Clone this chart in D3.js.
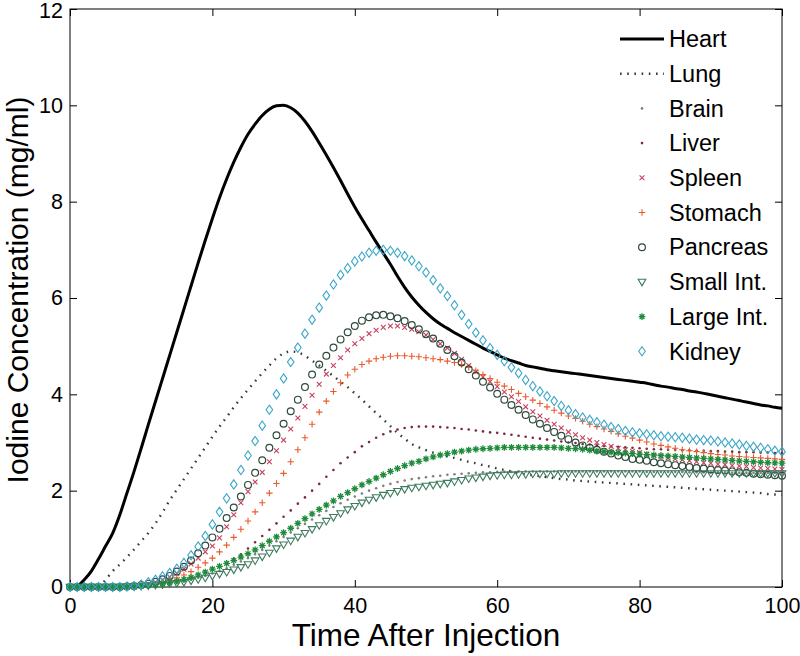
<!DOCTYPE html>
<html><head><meta charset="utf-8">
<script src="https://cdn.jsdelivr.net/npm/d3@7"></script>
<style>body{margin:0;background:#fff}text{font-family:"Liberation Sans",Arial,Helvetica,sans-serif}</style>
</head><body>
<svg id="c" width="800" height="656"></svg>
<script>
const time=[0,1,2,3,4,5,6,7,8,9,10,11,12,13,14,15,16,17,18,19,20,21,22,23,24,25,26,27,28,29,30,31,32,33,34,35,36,37,38,39,40,41,42,43,44,45,46,47,48,49,50,51,52,53,54,55,56,57,58,59,60,61,62,63,64,65,66,67,68,69,70,71,72,73,74,75,76,77,78,79,80,81,82,83,84,85,86,87,88,89,90,91,92,93,94,95,96,97,98,99,100];
const heart=[0,0.02,0.15,0.33,0.58,0.85,1.12,1.5,1.95,2.4, 2.88,3.37,3.85,4.33,4.81,5.29,5.77,6.25,6.73,7.2, 7.65,8.08,8.47,8.82,9.13,9.4,9.61,9.79,9.92,9.99, 10.0,9.95,9.84,9.67,9.46,9.22,8.97,8.71,8.44,8.16, 7.89,7.64,7.4,7.16,6.93,6.7,6.45,6.22,6.02,5.85, 5.7,5.57,5.46,5.37,5.28,5.2,5.12,5.04,4.96,4.89, 4.82,4.75,4.7,4.65,4.6,4.57,4.54,4.51,4.49,4.47, 4.45,4.43,4.41,4.39,4.37,4.35,4.33,4.31,4.29,4.27, 4.25,4.23,4.2,4.17,4.15,4.12,4.1,4.07,4.05,4.02, 3.99,3.96,3.93,3.9,3.87,3.84,3.81,3.78,3.76,3.73, 3.71];
const lung=[0,0,0,0,0,0.15,0.33,0.47,0.62,0.78, 0.95,1.12,1.32,1.55,1.8,2.02,2.24,2.46,2.68,2.9, 3.12,3.33,3.53,3.73,3.92,4.1,4.27,4.44,4.6,4.75, 4.85,4.89,4.87,4.8,4.7,4.6,4.49,4.38,4.26,4.15, 4.02,3.89,3.75,3.61,3.48,3.34,3.2,3.08,2.97,2.9, 2.84,2.79,2.75,2.71,2.68,2.64,2.6,2.57,2.53,2.5, 2.46,2.43,2.4,2.37,2.34,2.32,2.3,2.28,2.26,2.24, 2.23,2.21,2.2,2.19,2.18,2.17,2.16,2.15,2.14,2.13, 2.12,2.11,2.1,2.09,2.08,2.07,2.06,2.05,2.04,2.03, 2.02,2.01,2.0,1.99,1.98,1.97,1.96,1.95,1.93,1.92, 1.91];
const brain=[0,0,0,0,0,0,0,0,0,0, 0.01,0.02,0.03,0.05,0.07,0.09,0.12,0.15,0.19,0.23, 0.28,0.33,0.39,0.46,0.53,0.6,0.68,0.77,0.86,0.95, 1.04,1.13,1.22,1.31,1.4,1.49,1.58,1.66,1.74,1.81, 1.88,1.94,2.0,2.05,2.1,2.14,2.18,2.21,2.24,2.26, 2.28,2.3,2.31,2.33,2.34,2.35,2.36,2.37,2.38,2.38, 2.39,2.39,2.39,2.4,2.4,2.4,2.4,2.4,2.4,2.4, 2.4,2.4,2.4,2.4,2.4,2.4,2.4,2.4,2.4,2.4, 2.4,2.39,2.39,2.39,2.39,2.39,2.39,2.38,2.38,2.38, 2.38,2.38,2.38,2.37,2.37,2.37,2.37,2.37,2.37,2.37, 2.36];
const liver=[0,0,0,0,0,0,0,0,0,0, 0.01,0.02,0.04,0.06,0.09,0.12,0.16,0.2,0.25,0.31, 0.37,0.44,0.51,0.59,0.68,0.8,0.93,1.06,1.19,1.32, 1.46,1.59,1.73,1.86,2.0,2.14,2.29,2.43,2.57,2.69, 2.8,2.92,3.01,3.1,3.17,3.23,3.27,3.3,3.32,3.33, 3.33,3.33,3.32,3.31,3.3,3.28,3.27,3.25,3.23,3.21, 3.2,3.18,3.16,3.14,3.12,3.1,3.08,3.06,3.04,3.02, 3.0,2.99,2.97,2.96,2.94,2.93,2.92,2.91,2.9,2.89, 2.88,2.87,2.86,2.86,2.85,2.85,2.84,2.84,2.83,2.83, 2.82,2.82,2.81,2.81,2.8,2.8,2.8,2.79,2.79,2.78, 2.78];
const spleen=[0,0,0,0,0,0,0,0,0,0, 0.03,0.06,0.1,0.15,0.21,0.28,0.37,0.48,0.6,0.73, 0.85,1.02,1.25,1.5,1.75,1.98,2.18,2.38,2.6,2.83, 3.05,3.28,3.51,3.75,3.98,4.21,4.42,4.6,4.76,4.92, 5.05,5.16,5.26,5.33,5.39,5.42,5.42,5.39,5.35,5.3, 5.23,5.14,5.05,4.96,4.85,4.73,4.6,4.47,4.36,4.26, 4.16,4.05,3.95,3.85,3.74,3.64,3.55,3.46,3.38,3.3, 3.22,3.16,3.1,3.05,3.0,2.96,2.92,2.88,2.85,2.82, 2.79,2.76,2.73,2.71,2.68,2.66,2.64,2.62,2.6,2.58, 2.57,2.55,2.54,2.52,2.51,2.5,2.48,2.47,2.46,2.45, 2.44];
const stomach=[0,0,0,0,0,0,0,0,0,0.01, 0.02,0.04,0.06,0.1,0.14,0.19,0.25,0.32,0.41,0.5, 0.6,0.73,0.87,1.03,1.2,1.37,1.56,1.75,1.95,2.15, 2.36,2.6,2.85,3.1,3.38,3.63,3.86,4.06,4.24,4.4, 4.52,4.62,4.69,4.74,4.77,4.79,4.8,4.8,4.79,4.78, 4.76,4.74,4.72,4.69,4.66,4.62,4.56,4.49,4.41,4.33, 4.25,4.17,4.1,4.02,3.95,3.88,3.81,3.74,3.67,3.61, 3.55,3.5,3.44,3.38,3.33,3.28,3.23,3.18,3.13,3.09, 3.05,3.01,2.97,2.94,2.91,2.88,2.85,2.83,2.81,2.79, 2.77,2.75,2.74,2.72,2.71,2.7,2.69,2.68,2.67,2.66, 2.65];
const pancreas=[0,0,0,0,0,0,0,0,0.01,0.02, 0.04,0.07,0.11,0.16,0.23,0.32,0.42,0.55,0.7,0.86, 1.03,1.21,1.43,1.65,1.88,2.12,2.37,2.63,2.89,3.15, 3.39,3.65,3.89,4.15,4.41,4.62,4.8,4.97,5.14,5.29, 5.42,5.53,5.6,5.64,5.65,5.62,5.58,5.52,5.44,5.35, 5.25,5.16,5.05,4.92,4.79,4.66,4.52,4.39,4.26,4.14, 4.01,3.89,3.78,3.68,3.57,3.48,3.39,3.3,3.22,3.14, 3.07,3.0,2.94,2.89,2.85,2.81,2.77,2.73,2.7,2.66, 2.64,2.62,2.59,2.57,2.55,2.53,2.51,2.49,2.47,2.46, 2.44,2.43,2.42,2.4,2.38,2.37,2.35,2.34,2.33,2.32, 2.31];
const smallInt=[0,0,0,0,0,0,0,0,0.01,0.01, 0.02,0.03,0.04,0.05,0.07,0.08,0.1,0.13,0.16,0.19, 0.23,0.27,0.31,0.36,0.41,0.47,0.55,0.63,0.71,0.8, 0.88,0.96,1.04,1.12,1.2,1.28,1.37,1.45,1.53,1.61, 1.68,1.75,1.81,1.86,1.91,1.95,1.99,2.03,2.06,2.08, 2.1,2.12,2.14,2.16,2.19,2.22,2.25,2.27,2.29,2.31, 2.32,2.33,2.33,2.34,2.34,2.35,2.35,2.35,2.35,2.36, 2.36,2.36,2.36,2.36,2.36,2.36,2.36,2.36,2.36,2.36, 2.36,2.36,2.36,2.36,2.36,2.36,2.36,2.36,2.36,2.36, 2.36,2.36,2.36,2.36,2.36,2.36,2.36,2.36,2.36,2.36, 2.36];
const largeInt=[0,0,0,0,0,0,0,0,0,0.01, 0.02,0.03,0.05,0.07,0.09,0.12,0.16,0.2,0.25,0.31, 0.37,0.43,0.49,0.55,0.62,0.69,0.77,0.86,0.95,1.04, 1.13,1.22,1.32,1.42,1.52,1.61,1.7,1.79,1.88,1.96, 2.04,2.12,2.19,2.26,2.33,2.4,2.46,2.52,2.57,2.61, 2.66,2.7,2.74,2.77,2.8,2.82,2.84,2.86,2.87,2.88, 2.89,2.9,2.9,2.9,2.9,2.9,2.9,2.9,2.9,2.89, 2.88,2.87,2.86,2.84,2.82,2.81,2.8,2.79,2.78,2.77, 2.76,2.75,2.74,2.73,2.72,2.71,2.7,2.69,2.68,2.67, 2.66,2.65,2.64,2.63,2.62,2.61,2.6,2.59,2.58,2.575, 2.57];
const kidney=[0,0,0,0,0,0,0,0,0.01,0.02, 0.05,0.1,0.15,0.22,0.29,0.38,0.5,0.66,0.84,1.06, 1.3,1.56,1.84,2.13,2.43,2.73,3.03,3.35,3.68,4.0, 4.33,4.67,4.97,5.26,5.55,5.8,6.05,6.28,6.48,6.62, 6.76,6.86,6.94,6.98,7.0,6.98,6.94,6.87,6.78,6.66, 6.53,6.37,6.2,6.04,5.85,5.65,5.46,5.28,5.12,4.96, 4.82,4.69,4.56,4.44,4.3,4.17,4.06,3.96,3.86,3.76, 3.67,3.59,3.52,3.47,3.42,3.37,3.32,3.28,3.24,3.21, 3.19,3.17,3.15,3.13,3.12,3.11,3.1,3.08,3.06,3.05, 3.04,3.02,3.0,2.98,2.96,2.93,2.91,2.89,2.86,2.83, 2.81];

const seriesNames=["Heart","Lung","Brain","Liver","Spleen","Stomach","Pancreas","Small Int.","Large Int.","Kidney"];
const xTicks=[0,20,40,60,80,100];
const yTicks=[0,2,4,6,8,10,12];
const xTitle="Time After Injection";
const yTitle="Iodine Concentration (mg/ml)";

const seriesValues=[heart,lung,brain,liver,spleen,stomach,pancreas,smallInt,largeInt,kidney];
const styles=[
  {kind:"line",color:"#000",width:3},
  {kind:"dotted",color:"#3a3a3a",width:2.4},
  {kind:"dot",color:"#808080"},
  {kind:"dot",color:"#7a2a3c"},
  {kind:"x",color:"#c8405e"},
  {kind:"plus",color:"#ea5a2c"},
  {kind:"circle",color:"#2f4a3c"},
  {kind:"tri",color:"#3d7a5e"},
  {kind:"star",color:"#1e8c3c"},
  {kind:"diamond",color:"#3aa6c8"}
];

const svg=d3.select("#c");
const x=d3.scaleLinear().domain([0,100]).range([70,782]);
const y=d3.scaleLinear().domain([0,12]).range([587,9]);

const fs=21.5;
const gB=svg.append("g").attr("transform","translate(0,587)").call(d3.axisBottom(x).tickValues(xTicks).tickSize(-7).tickPadding(11).tickFormat(d3.format("d")));
const gL=svg.append("g").attr("transform","translate(70,0)").call(d3.axisLeft(y).tickValues(yTicks).tickSize(-7).tickPadding(7).tickFormat(d3.format("d")));
const gT=svg.append("g").attr("transform","translate(0,9)").call(d3.axisTop(x).tickValues(xTicks).tickSize(-7).tickFormat(""));
const gR=svg.append("g").attr("transform","translate(782,0)").call(d3.axisRight(y).tickValues(yTicks).tickSize(-7).tickFormat(""));
[gB,gL,gT,gR].forEach(g=>{g.select(".domain").remove();g.selectAll("line").attr("stroke","#000").attr("stroke-width",1);g.selectAll("text").attr("font-size",fs).attr("fill","#000").style("font-family","Liberation Sans, Arial, sans-serif");});
gL.selectAll(".tick text").filter(d=>d===12).attr("dy","0.4em");
svg.append("rect").attr("x",70).attr("y",9).attr("width",712).attr("height",578).attr("fill","none").attr("stroke","#000").attr("stroke-width",1);

svg.append("text").attr("x",426).attr("y",646).attr("text-anchor","middle").attr("font-size",31.5).text(xTitle);
svg.append("text").attr("transform","translate(28,290) rotate(-90)").attr("text-anchor","middle").attr("font-size",30).text(yTitle);

function drawMarker(g,kind,color){
  if(kind==="dot") return g.append("circle").attr("r",1.3).attr("fill",color);
  if(kind==="circle") return g.append("circle").attr("r",3.4).attr("fill","none").attr("stroke",color).attr("stroke-width",1.2);
  let d="";
  if(kind==="x") d="M-2.4,-2.4L2.4,2.4M-2.4,2.4L2.4,-2.4";
  if(kind==="plus") d="M-3.2,0H3.2M0,-3.2V3.2";
  if(kind==="star") d="M-3.4,0H3.4M0,-3.4V3.4M-2.4,-2.4L2.4,2.4M-2.4,2.4L2.4,-2.4";
  if(kind==="tri") d="M-3.8,-2.6L3.8,-2.6L0,3.9Z";
  if(kind==="diamond") d="M0,-4.6L3.3,0L0,4.6L-3.3,0Z";
  return g.append("path").attr("d",d).attr("fill","none").attr("stroke",color).attr("stroke-width",kind==="star"?1.3:1.1);
}

const plot=svg.append("g");
seriesValues.forEach((vals,i)=>{
  if(vals.length!==time.length) throw new Error("length mismatch "+seriesNames[i]+" "+vals.length);
  const st=styles[i];
  const pts=time.map((t,j)=>[t,vals[j]]);
  if(st.kind==="line"||st.kind==="dotted"){
    const p=plot.append("path").datum(pts).attr("fill","none").attr("stroke",st.color).attr("stroke-width",st.width)
      .attr("d",d3.line().curve(d3.curveMonotoneX).x(d=>x(d[0])).y(d=>y(d[1])));
    if(st.kind==="dotted") p.attr("stroke-dasharray","1.6,5.6");
  } else {
    pts.forEach(d=>{
      const g=plot.append("g").attr("transform",`translate(${x(d[0])},${y(d[1])})`);
      drawMarker(g,st.kind,st.color);
    });
  }
});

const leg=svg.append("g");
seriesNames.forEach((name,i)=>{
  const yy=39+i*34.7;
  const st=styles[i];
  if(st.kind==="line"||st.kind==="dotted"){
    const l=leg.append("line").attr("x1",620).attr("x2",664).attr("y1",yy).attr("y2",yy).attr("stroke",st.color).attr("stroke-width",st.width);
    if(st.kind==="dotted") l.attr("stroke-dasharray","1.6,5.6");
  } else {
    drawMarker(leg.append("g").attr("transform",`translate(642,${yy})`),st.kind,st.color);
  }
  leg.append("text").attr("x",669).attr("y",yy).attr("dy","0.35em").attr("font-size",23.5).text(name);
});
</script>
</body></html>
